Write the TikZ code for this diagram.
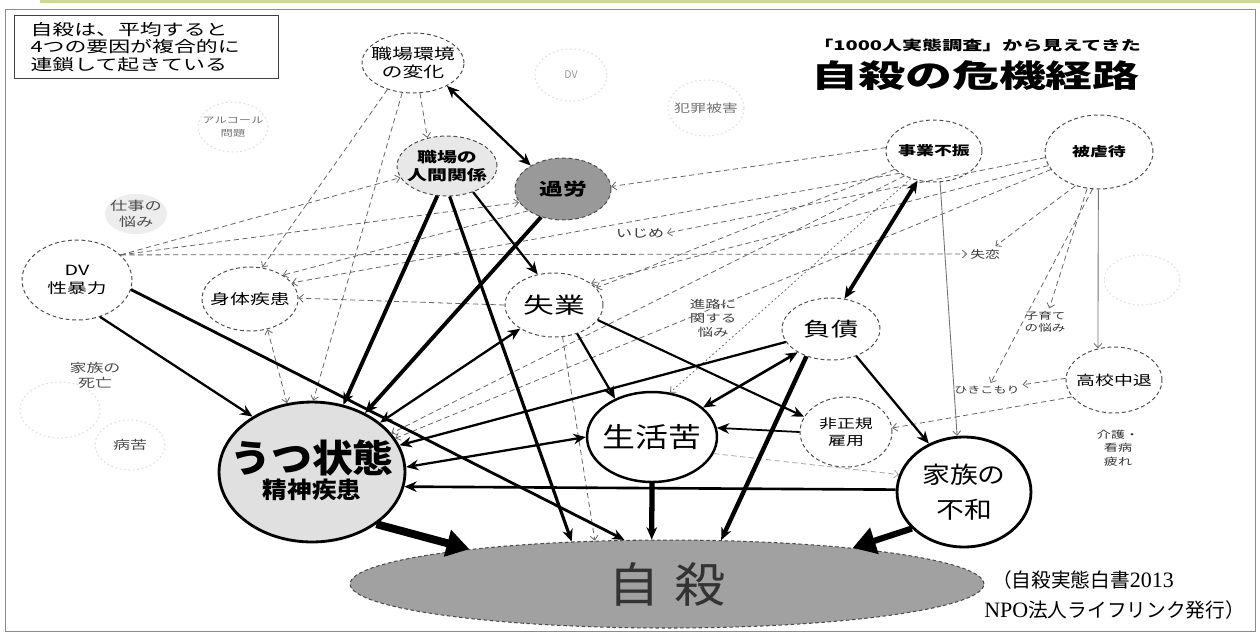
\documentclass[tikz,border=0pt]{standalone}
\usepackage{fontspec}
\setmainfont{Noto Sans CJK JP}
\newfontfamily\wA{Noto Sans CJK JP}[FakeStretch=1.4]
\newfontfamily\wB{Noto Sans CJK JP}[FakeStretch=1.2]
\newfontfamily\wC{Noto Sans CJK JP}[FakeStretch=1.5]
\newfontfamily\wD{Noto Sans CJK JP}[FakeStretch=1.08]
\newfontfamily\lserif{Liberation Serif}
\usetikzlibrary{shapes.geometric,arrows.meta}
\newcommand\fsz[2]{\fontsize{#1}{#2}\selectfont}
\begin{document}
\begin{tikzpicture}[x=0.02cm,y=-0.02cm,
  ell/.style 2 args={ellipse, inner sep=0pt, minimum width={#1*0.04cm}, minimum height={#2*0.04cm}},
  dnode/.style={draw=black!70, dash pattern=on 2.2pt off 1.6pt, line width=0.55pt},
  snode/.style={draw=black, line width=1.4pt},
  fnode/.style={draw=black!12, dash pattern=on 1pt off 1.5pt, line width=0.6pt},
  lab/.style={align=center, inner sep=0pt},
  tnode/.style={align=center, inner sep=1.5pt},
  sarr/.style={-{Stealth[length=7pt,width=6pt]}, line width=#1},
  sarr/.default=1.2pt,
  dblarr/.style={{Stealth[length=7pt,width=6pt]}-{Stealth[length=7pt,width=6pt]}, line width=#1},
  dblarr/.default=1.2pt,
  bigarr/.style={-{Triangle[length=13pt,width=15pt]}, line width=#1},
  bigarr/.default=4pt,
  dsh/.style={draw=black!60, dash pattern=on 3pt off 2pt, line width=0.45pt, -{Straight Barb[length=2.5pt,width=4.5pt]}},
  dshd/.style={draw=black!60, dash pattern=on 3pt off 2pt, line width=0.45pt, {Straight Barb[length=2.5pt,width=4.5pt]}-{Straight Barb[length=2.5pt,width=4.5pt]}},
  thinl/.style={draw=black!55, line width=0.5pt, -{Straight Barb[length=2.5pt,width=4.5pt]}}
]
\useasboundingbox (0,0) rectangle (1260,633);
\fill[white] (0,0) rectangle (1260,633);
\draw[color={rgb,255:red,205;green,218;blue,150}, line width=2pt] (40,1.5) -- (1260,1.5);
\draw[black!45, line width=0.5pt] (5,9) rectangle (1255,631);

% note box and title
\node[draw=black!75, line width=0.6pt, anchor=north west, minimum height=1.26cm, text width=4.64cm, inner xsep=0.32cm, align=left, font=\wA\fsz{8.9}{10.2}] (note) at (14,15) {自殺は、平均すると\\4つの要因が複合的に\\連鎖して起きている};
\node[anchor=west, inner sep=0pt, font=\wC\bfseries\fsz{7.6}{8}] (sub) at (813,45) {「1000人実態調査」から見えてきた};
\node[anchor=west, inner sep=0pt, font=\wC\bfseries\fsz{17.8}{18}] (title) at (811,76) {自殺の危機経路};

% faint background nodes
\node[ell={36}{26}, fnode, label={[lab,text=black!40,font=\fsz{6}{7}]center:DV}] (dvtop) at (571,75) {};
\node[ell={38}{28}, fnode, label={[lab,text=black!55,font=\wA\fsz{6.5}{7}]center:犯罪被害}] (hanzai) at (706,108) {};
\node[ell={35}{25}, fnode, label={[lab,text=black!55,font=\wA\fsz{5}{7}]center:{アルコール\\問題}}] (alc) at (233,127) {};
\node[ell={31}{20}, fill=black!7, label={[lab,text=black!70,font=\wA\fsz{7}{9}]center:{仕事の\\悩み}}] (shigoto) at (136,214) {};
\node[ell={40}{28}, fnode] (faintL) at (60,410) {};
\node[ell={38}{25}, fnode] (faintR) at (1142,280) {};
\node[ell={35}{25}, fnode, label={[lab,text=black!70,font=\wA\fsz{6.9}{8}]center:病苦}] (byoku) at (130,445) {};
\node[tnode, text=black!70, font=\wA\fsz{6.9}{8.5}] (shibo) at (95,375) {家族の\\死亡};

% main nodes
\node[ell={51}{30}, dnode, label={[lab,font=\wA\fsz{8.5}{10.5}]center:{職場環境\\の変化}}] (jk) at (413,63) {};
\node[ell={50}{30}, dnode, fill=black!9, label={[lab,font=\wA\bfseries\fsz{8.1}{10.5}]center:{職場の\\人間関係}}] (ningen) at (447,166) {};
\node[ell={48}{31}, dnode, fill=black!40, label={[lab,font=\wA\bfseries\fsz{9.7}{11}]center:過労}] (karo) at (563,189) {};
\node[ell={55}{40}, dnode, label={[lab,font=\wA\fsz{8}{10.5}]center:{DV\\性暴力}}] (dv) at (77,280) {};
\node[ell={48}{32}, dnode, label={[lab,font=\wA\fsz{8.1}{9}]center:身体疾患}] (shintai) at (250,299) {};
\node[ell={49}{32}, dnode, label={[lab,font=\wA\fsz{12.5}{13}]center:失業}] (shitsugyo) at (554,305) {};
\node[ell={48}{31}, dnode, label={[lab,font=\wA\bfseries\fsz{7.3}{8}]center:事業不振}] (jigyo) at (934,151) {};
\node[ell={54}{37}, dnode, label={[lab,font=\wA\bfseries\fsz{7.3}{8}]center:被虐待}] (hi) at (1099,152) {};
\node[tnode, text=black!80, font=\wA\fsz{6.5}{7}] (ijime) at (640,233) {いじめ};
\node[tnode, text=black!80, font=\wA\fsz{6}{7}] (shitsuren) at (985,254) {失恋};
\node[tnode, text=black!80, font=\wA\fsz{5.5}{7}] (koso) at (1045,322) {子育て\\の悩み};
\node[ell={48}{33}, dnode, label={[lab,font=\wA\fsz{7.7}{8}]center:高校中退}] (koko) at (1114,380) {};
\node[tnode, text=black!80, font=\wA\fsz{5.3}{6}] (hiki) at (987,390) {ひきこもり};
\node[tnode, text=black!80, font=\wA\fsz{5.7}{7.8}] (kaigo) at (1118,448) {介護・\\看病\\疲れ};
\node[tnode, text=black!75, font=\wA\fsz{6.3}{8}] (shinro) at (713,318) {進路に\\関する\\悩み};
\node[ell={49}{31}, dnode, label={[lab,font=\wA\fsz{11.1}{12}]center:負債}] (fusai) at (831,329) {};
\node[ell={46}{35}, dnode, label={[lab,font=\wA\fsz{7.3}{10}]center:{非正規\\雇用}}] (hisei) at (846,432) {};
\node[ell={65}{45}, snode, label={[lab,font=\wB\fsz{15.6}{16}]center:生活苦}] (seikatsu) at (652,437) {};
\node[ell={93}{70}, snode, line width=1.6pt, fill=black!12,
  label={[lab,font=\wD\bfseries\fsz{21.6}{22},yshift=0.28cm]center:うつ状態},
  label={[lab,font=\wD\bfseries\fsz{13}{14},yshift=-0.36cm]center:精神疾患}] (utsu) at (312,472) {};
\node[ell={67}{55}, snode, line width=1.6pt, label={[lab,font=\wB\fsz{13.2}{19.5}]center:{家族の\\不和}}] (kazoku) at (964,492) {};
\node[ell={317}{44}, fill=black!37, draw=black!70, dash pattern=on 2pt off 1.5pt, line width=0.6pt,
  label={[lab,text=black!80,font=\wD\fsz{27}{28}]center:自\hspace{0.3em}殺}] (jisatsu) at (667,584) {};

% footnote
\node[anchor=west, align=left, inner sep=0pt, font=\fsz{11.2}{17.5}] (src) at (984,595) {\hspace{0.4em}（自殺実態白書{\lserif\fsz{12.5}{17.5}2013}\\{\lserif\fsz{12.5}{17.5}NPO}法人ライフリンク発行）};

% dashed (thin) connectors
\draw[dsh] (jk.-134) -- (shintai.69);
\draw[dsh] (jk.-77) -- (ningen.125);
\draw[dsh] (jk.-110) -- (utsu.89);
\draw[dshd] (shintai.-60) -- (utsu.110);
\draw[dsh] (karo.212) -- (shintai.36);
\draw[dsh] (jigyo.213) -- (shintai.21);
\draw[dsh] (shitsugyo.180) -- (shintai.1);
\draw[dsh] (dv.30) -- (ningen.194);
\draw[dsh] (dv.30) -- (karo.197);
\draw[dsh] (dv.30) -- (shitsuren.west);
\draw[dsh] (jigyo.176) -- (karo.3);
\draw[dsh] (jigyo.205) -- (shitsugyo.22);
\draw[dsh] (jigyo.220) -- (utsu.26);
\draw[dsh, dash pattern=on 1pt off 1.5pt] (jigyo.230) -- (seikatsu.68);
\draw[thinl] (jigyo.-79) -- (kazoku.97);
\draw[dsh] (hi.186) -- (ijime.east);
\draw[dsh] (hi.195) -- (shitsugyo.30);
\draw[dsh] (hi.200) -- (utsu.22);
\draw[dsh] (hi.-125) -- (shitsuren);
\draw[dsh] (hi.-108) -- (koso);
\draw[dsh] (hi.-100) -- (hiki);
\draw[thinl] (hi.-91) -- (koko.117);
\draw[dsh] (koko.178) -- (hiki);
\draw[dsh] (koko.202) -- (hisei.5);
\draw[dsh] (shitsugyo.-75) -- (jisatsu.149);
\draw[dsh, draw=black!35] (seikatsu.-15) -- (kazoku.165);

% thick connectors
\draw[dblarr=1.3pt] (jk.-34) -- (karo.144);
\draw[sarr=2.2pt] (ningen.-108) -- (utsu.65);
\draw[sarr=1.8pt] (ningen.-85) -- (jisatsu.156);
\draw[sarr=1.3pt] (ningen.-45) -- (shitsugyo.118);
\draw[sarr=2.2pt] (karo.-128) -- (utsu.48);
\draw[sarr=1.3pt] (dv.-58) -- (utsu.137);
\draw[sarr=1.6pt] (dv.-10) -- (jisatsu.134);
\draw[dblarr=1.3pt] (utsu.36) -- (shitsugyo.215);
\draw[sarr=1.3pt] (shitsugyo.-51) -- (seikatsu.134);
\draw[sarr=1.2pt] (shitsugyo.-19) -- (hisei.160);
\draw[sarr=1.3pt] (fusai.196) -- (utsu.17);
\draw[dblarr=1.5pt] (seikatsu.30) -- (fusai.215);
\draw[sarr=2.5pt] (fusai.228) -- (jisatsu.39);
\draw[sarr=1.3pt] (fusai.-47) -- (kazoku.126);
\draw[dblarr=2.2pt] (jigyo.241) -- (fusai.66);
\draw[sarr=1pt] (hisei.180) -- (seikatsu.8);
\draw[dblarr=1.3pt] (seikatsu.180) -- (utsu.3);
\draw[sarr=1.5pt] (kazoku.178) -- (utsu.-9);
\draw[sarr=3pt] (seikatsu.-90) -- (jisatsu.109);
\draw[bigarr=3.5pt] (kazoku.215) -- (jisatsu.11);
\draw[bigarr=4.5pt] (utsu.-39) -- (jisatsu.170);
\end{tikzpicture}
\end{document}
